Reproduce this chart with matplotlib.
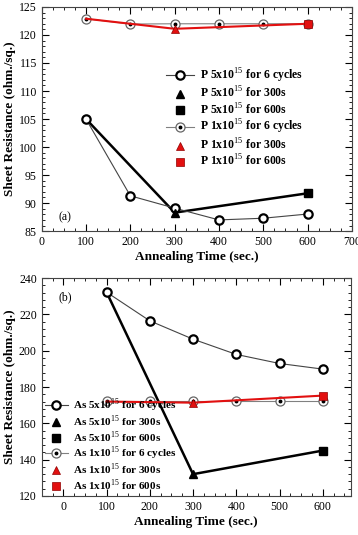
import numpy as np
import matplotlib
matplotlib.use("Agg")
from matplotlib import pyplot as plt
from matplotlib.ticker import MultipleLocator
from matplotlib.legend_handler import HandlerTuple

plt.rcParams['font.family'] = ['Liberation Serif', 'DejaVu Serif']
plt.rcParams['mathtext.fontset'] = 'custom'
plt.rcParams['mathtext.rm'] = 'Liberation Serif'
plt.rcParams['mathtext.bf'] = 'Liberation Serif:bold'

# panel (a): P implant
t_cyc = [100, 200, 300, 400, 500, 600]
p5_cyc = [105.0, 91.3, 89.1, 87.0, 87.3, 88.05]
p1_cyc = [122.9, 121.95, 122.0, 122.0, 122.0, 122.0]
t_rta = [100, 300, 600]
p5_rta = [105.0, 88.3, 91.75]
p1_rta = [122.9, 121.1, 122.0]

# panel (b): As implant
as5_cyc = [232.3, 216.5, 206.4, 198.0, 193.0, 189.9]
as1_cyc = [172.2, 172.2, 172.2, 172.2, 172.2, 172.2]
as5_rta = [232.3, 132.0, 145.0]
as1_rta = [172.0, 171.4, 175.3]

labels_p = ['P 5x10$^{15}$ for 6 cycles', 'P 5x10$^{15}$ for 300s', 'P 5x10$^{15}$ for 600s',
            'P 1x10$^{15}$ for 6 cycles', 'P 1x10$^{15}$ for 300s', 'P 1x10$^{15}$ for 600s']
labels_as = [l.replace('P ', 'As ') for l in labels_p]

RED = '#e21010'

fig = plt.figure(figsize=(3.58, 5.35), dpi=100)
ax1 = fig.add_axes([0.1165, 0.568, 0.8665, 0.419])
ax2 = fig.add_axes([0.1165, 0.073, 0.8635, 0.407])


def draw(ax, c5, c1, r5, r1):
    # thick RTA lines
    ax.plot(t_rta, r5, color='black', lw=1.8, zorder=2)
    ax.plot(t_rta, r1, color=RED, lw=1.5, zorder=4)
    # 5x10^15 cycles
    l1, = ax.plot(t_cyc, c5, color='#444444', lw=0.8, marker='o', ms=6, mfc='white',
                  mec='black', mew=1.6, zorder=3)
    # 1x10^15 cycles, circle with dot
    l4a, = ax.plot(t_cyc, c1, color='#808080', lw=0.8, marker='o', ms=6.5, mfc='white',
                   mec='#666666', mew=0.9, zorder=3)
    l4b, = ax.plot(t_cyc, c1, ls='none', marker='o', ms=1.8, color='black', zorder=3.5)
    l2, = ax.plot([t_rta[1]], [r5[1]], ls='none', marker='^', ms=6, color='black', zorder=5)
    l3, = ax.plot([t_rta[2]], [r5[2]], ls='none', marker='s', ms=5.5, color='black', zorder=5)
    l5, = ax.plot([t_rta[1]], [r1[1]], ls='none', marker='^', ms=6, mfc=RED,
                  mec='#900000', mew=0.5, zorder=5)
    l6, = ax.plot([t_rta[2]], [r1[2]], ls='none', marker='s', ms=5.5, mfc=RED,
                  mec='#900000', mew=0.5, zorder=5)
    return [l1, l2, l3, (l4a, l4b), l5, l6]


def style(ax):
    ax.tick_params(which='both', direction='in', top=True, right=True, labelsize=8.5)
    ax.tick_params(which='major', length=5, width=0.8)
    ax.tick_params(which='minor', length=2.5, width=0.6)
    for s in ax.spines.values():
        s.set_linewidth(0.8)
        s.set_color('#444444')
    ax.set_xlabel('Annealing Time (sec.)', fontsize=9.5, fontweight='bold', labelpad=2)
    ax.set_ylabel('Sheet Resistance (ohm./sq.)', fontsize=9.5, fontweight='bold', labelpad=2)


tup = {tuple: HandlerTuple(ndivide=1, pad=0)}

h1 = draw(ax1, p5_cyc, p1_cyc, p5_rta, p1_rta)
ax1.set_xlim(0, 700)
ax1.set_ylim(85, 125)
ax1.xaxis.set_major_locator(MultipleLocator(100))
ax1.xaxis.set_minor_locator(MultipleLocator(25))
ax1.yaxis.set_major_locator(MultipleLocator(5))
ax1.yaxis.set_minor_locator(MultipleLocator(1))
style(ax1)
ax1.text(0.055, 0.05, '(a)', transform=ax1.transAxes, fontsize=8.5)
ax1.legend(h1, labels_p, loc='upper left', bbox_to_anchor=(0.40, 0.735), frameon=False,
           prop={'weight': 'bold', 'size': 8.5}, handlelength=2.4,
           labelspacing=0.08, handletextpad=0.5, borderpad=0, borderaxespad=0,
           handler_map=tup)

h2 = draw(ax2, as5_cyc, as1_cyc, as5_rta, as1_rta)
ax2.set_xlim(-50, 665)
ax2.set_ylim(120, 240)
ax2.xaxis.set_major_locator(MultipleLocator(100))
ax2.xaxis.set_minor_locator(MultipleLocator(25))
ax2.yaxis.set_major_locator(MultipleLocator(20))
ax2.yaxis.set_minor_locator(MultipleLocator(4))
style(ax2)
ax2.text(0.055, 0.9, '(b)', transform=ax2.transAxes, fontsize=8.5)
ax2.legend(h2, labels_as, loc='lower left', bbox_to_anchor=(0.01, 0.015), frameon=False,
           prop={'weight': 'bold', 'size': 8}, handlelength=2.1,
           labelspacing=0.0, handletextpad=0.45, borderpad=0, borderaxespad=0,
           handler_map=tup)

fig.savefig('out.png', dpi=100)
